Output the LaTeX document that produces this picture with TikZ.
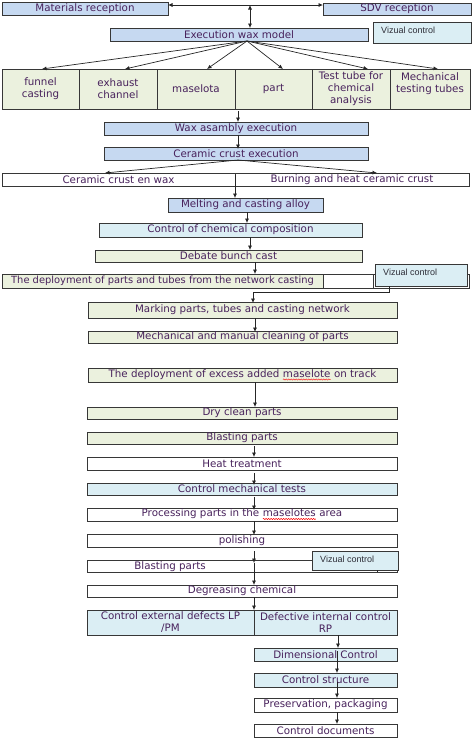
\documentclass[tikz,border=0pt]{standalone}
\usepackage{fontspec}
\setmainfont{DejaVu Sans}
\newfontfamily\vizfont{Liberation Sans}
\usetikzlibrary{arrows.meta,shadows,decorations.pathmorphing}
\definecolor{txt}{RGB}{72,34,92}
\definecolor{fblue}{RGB}{198,217,241}
\definecolor{fcyan}{RGB}{219,238,244}
\definecolor{fgreen}{RGB}{235,241,222}
\definecolor{edge}{RGB}{55,55,55}
\definecolor{vtxt}{RGB}{45,45,55}
\tikzset{
 basebox/.style={draw=edge, line width=0.9pt, inner sep=0pt, outer sep=0pt, anchor=north west, font=\fontsize{10.3}{12}\selectfont, text=txt, align=center},
 bluebox/.style={basebox, fill=fblue},
 cyanbox/.style={basebox, fill=fcyan},
 greenbox/.style={basebox, fill=fgreen},
 whitebox/.style={basebox, fill=white},
 vizbox/.style={basebox, fill=fcyan},
 viztext/.style={font=\vizfont\fontsize{9}{10}\selectfont, text=vtxt, anchor=west, inner sep=0pt},
 conn/.style={draw=black!85, line width=0.7pt},
 arr/.style={conn, -{Latex[length=4.5pt,width=4pt]}},
 darr/.style={conn, {Latex[length=4.5pt,width=4pt]}-{Latex[length=4.5pt,width=4pt]}},
 shadowed/.style={drop shadow={shadow xshift=1.2pt, shadow yshift=-1.2pt, fill=black!70, opacity=0.9}},
}
\newcommand\bx[7]{\node[#6, minimum width=#4pt-#2pt, minimum height=#5pt-#3pt] (#1) at (#2,#3) {#7};}
\newcommand\spell[1]{\tikz[baseline=(sp.base)]{\node[draw=none,fill=none,inner sep=0pt,outer sep=0pt,minimum width=0pt,minimum height=0pt,anchor=base,text=txt] (sp) at (0,0) {#1};\draw[draw=red,line width=0.5pt,decorate,decoration={snake,amplitude=0.6pt,segment length=2.5pt}] ([yshift=-2pt]sp.base west) -- ([yshift=-2pt]sp.base east);}}
\begin{document}
\begin{tikzpicture}[x=1pt,y=-1pt]
\useasboundingbox (0,0) rectangle (472,740);
% top
\bx{mat}{2}{2}{168}{15}{bluebox}{Materials reception}
\bx{sdv}{323}{3}{471}{15}{bluebox}{SDV reception}
\bx{exe}{110}{28}{368}{41}{bluebox}{Execution wax model}
\bx{viz1}{373}{22}{471}{43}{vizbox}{}
\node[viztext] (viz1t) at ([shift={(8pt,-8pt)}]viz1.north west) {Vizual control};
\coordinate (top) at (250,5);
\draw[darr] (mat.east |- top) -- (sdv.west |- top);
\draw[darr] (top) -- (exe.north -| top);
% row of six
\bx{c1}{2}{69}{79}{109}{greenbox}{funnel\\casting}
\bx{c2}{79}{69}{157}{109}{greenbox}{exhaust\\channel}
\bx{c3}{157}{69}{235}{109}{greenbox}{maselota}
\bx{c4}{235}{69}{312}{109}{greenbox}{part}
\bx{c5}{312}{69}{390}{109}{greenbox}{Test tube for\\chemical\\analysis}
\bx{c6}{390}{69}{470}{109}{greenbox}{Mechanical\\testing tubes\\\mbox{}}
\coordinate (fan) at (exe.south -| 247,0);
\foreach \n/\x in {c1/42, c2/125, c3/207, c4/283, c5/368, c6/438}
  \draw[arr] (fan) -- (\n.north -| \x,0);
% wax / ceramic
\bx{wax}{104}{122}{368}{135}{bluebox}{Wax asambly execution}
\draw[arr] ([yshift=-2pt]c4.south -| 238,0) -- (wax.north -| 238,0);
\bx{cer}{104}{147}{368}{160}{bluebox}{Ceramic crust execution}
\draw[arr] (wax.south -| 238,0) -- ([yshift=-2pt]cer.north -| 238,0);
\bx{cwl}{2}{173}{235}{186}{whitebox}{Ceramic crust en wax}
\bx{cwr}{235}{173}{469}{186}{whitebox}{Burning and heat ceramic crust}
\draw[arr] (cer.south -| 238,0) -- (cwl.north -| 105,0);
\draw[arr] (cer.south -| 238,0) -- (cwr.north -| 377,0);
\bx{melt}{168}{198}{323}{212}{bluebox}{Melting and casting alloy}
\draw[arr] ([yshift=-2pt]cwl.north east) -- (melt.north -| cwl.north east);
\bx{chem}{99}{223}{362}{237}{cyanbox}{Control of chemical composition}
\draw[arr] (melt.south -| 247,0) -- (chem.north -| 247,0);
\bx{deb}{95}{250}{362}{262}{greenbox}{Debate bunch cast}
\draw[arr] (chem.south -| 250,0) -- (deb.north -| 250,0);
\bx{dep}{2}{274}{323}{288}{greenbox,font=\fontsize{9.9}{12}\selectfont}{The deployment of parts and tubes from the network casting}
\bx{depa}{323}{274}{373}{288}{whitebox}{}
\bx{depb}{373}{274}{469}{288}{whitebox}{}
\draw[arr] (deb.south -| 255,0) -- (dep.north -| 255,0);
\bx{viz2}{375}{264}{467}{286}{vizbox,shadowed}{}
\node[viztext] (viz2t) at ([shift={(8pt,-8pt)}]viz2.north west) {Vizual control};
\bx{mark}{88}{302}{397}{318}{greenbox}{Marking parts, tubes and casting network}
\coordinate (bend) at (253,292);
\draw[arr] (viz2.south -| 389,0) |- (bend) -- ([yshift=-1pt]mark.north -| bend);
\bx{mech}{88}{331}{397}{343}{greenbox}{Mechanical and manual cleaning of parts}
\draw[arr] (mark.south -| 255,0) -- ([yshift=-1pt]mech.north -| 255,0);
\bx{exc}{88}{368}{397}{382}{greenbox}{The deployment of excess added \spell{maselote} on track}
\bx{dry}{87}{407}{397}{419}{greenbox}{Dry clean parts}
\draw[arr] (exc.south -| 255,0) -- (dry.north -| 255,0);
\bx{bl1}{87}{432}{397}{444}{greenbox}{Blasting parts}
\bx{heat}{87}{457}{397}{470}{whitebox}{Heat treatment}
\draw[arr] ([yshift=-2pt]bl1.south -| 254,0) -- (heat.north -| 254,0);
\bx{ctm}{87}{483}{397}{495}{cyanbox}{Control mechanical tests}
\draw[arr] ([yshift=-3pt]heat.south -| 254,0) -- ([yshift=-2pt]ctm.north -| 254,0);
\bx{proc}{87}{508}{397}{521}{whitebox}{Processing parts in the \spell{maselotes} area}
\draw[arr] ([yshift=-2pt]ctm.south -| 254,0) -- ([yshift=-2pt]proc.north -| 254,0);
\bx{pol}{87}{534}{397}{547}{whitebox}{polishing}
\draw[arr] (proc.south -| 254,0) -- ([yshift=-1pt]pol.north -| 254,0);
\bx{bl2}{87}{560}{397}{572}{whitebox}{}
\node[basebox, draw=none, fill=none, anchor=center] (bl2t) at (170,566.5) {Blasting parts};
\bx{viz3}{312}{551}{398}{570}{vizbox,shadowed}{}
\node[viztext] (viz3t) at ([shift={(8pt,-8pt)}]viz3.north west) {Vizual control};
\draw[conn] (viz3.south -| 377,0) -- (bl2.south -| 377,0);
\draw[arr] ([yshift=-4pt]pol.south -| 254,0) -- ([yshift=-3pt]bl2.north -| 254,0);
\bx{degr}{87}{585}{397}{597}{whitebox}{Degreasing chemical}
\draw[arr] ([yshift=-3pt]bl2.north -| 254,0) -- (degr.north -| 254,0);
\bx{lp}{87}{610}{254}{635}{cyanbox}{Control external defects LP\\/PM}
\bx{rp}{254}{610}{397}{635}{cyanbox}{Defective internal control\\RP}
\draw[arr] (degr.south -| 254,0) -- (lp.north east);
\bx{dim}{254}{648}{397}{661}{cyanbox}{Dimensional Control}
\draw[arr] (rp.south -| 338,0) -- (dim.north -| 338,0);
\bx{str}{254}{673}{397}{687}{cyanbox}{Control structure}
\draw[arr] ([yshift=-3pt]dim.north -| 337,0) -- (str.north -| 337,0);
\bx{pres}{254}{698}{397}{712}{whitebox}{Preservation, packaging}
\draw[arr] ([yshift=-9pt]str.north -| 337,0) -- (pres.north -| 337,0);
\bx{docs}{254}{724}{397}{737}{whitebox}{Control documents}
\draw[arr] (pres.south -| 337,0) -- (docs.north -| 337,0);
\end{tikzpicture}
\end{document}
